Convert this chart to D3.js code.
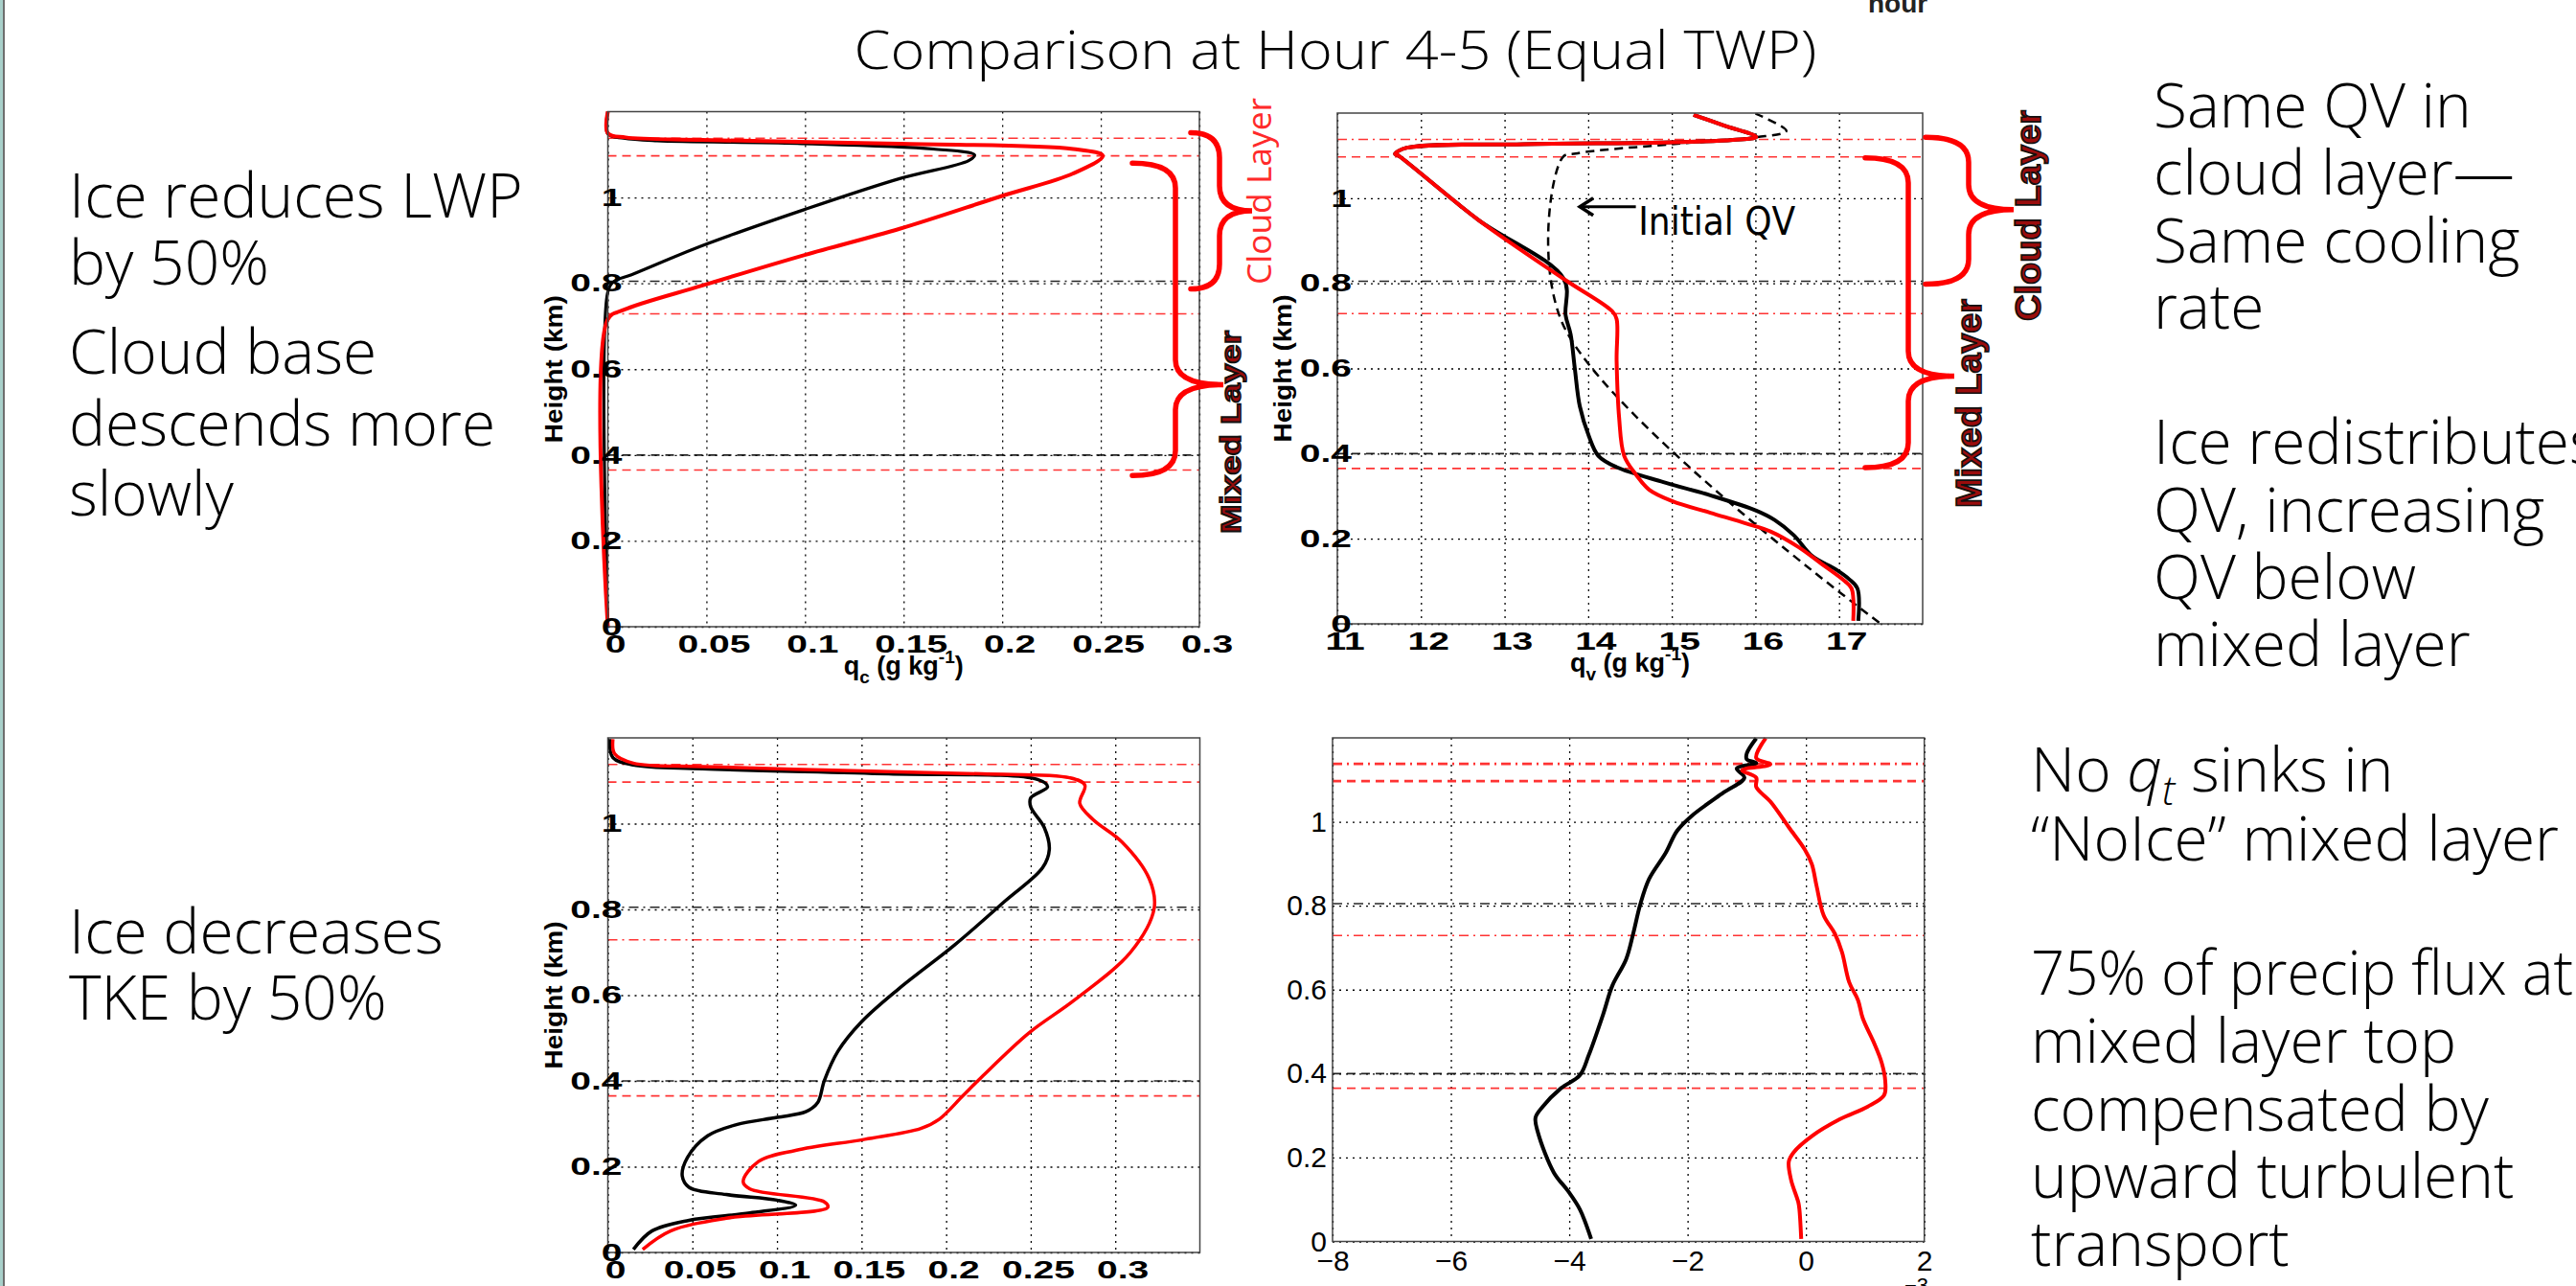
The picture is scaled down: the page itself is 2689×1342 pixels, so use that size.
<!DOCTYPE html>
<html>
<head>
<meta charset="utf-8">
<script src="https://cdn.jsdelivr.net/npm/d3@7"></script>
<style>
  body { margin: 0; background: #fff; }
  svg { display: block; }
  .note { font-family: "Open Sans", "Noto Sans", sans-serif; font-weight: 300; font-size: 64px; fill: #000; }
</style>
</head>
<body>
<script>
var W = 2689, H = 1342;

// tick values
var heightTicks = [0, 0.2, 0.4, 0.6, 0.8, 1];
var qcTicks = [0, 0.05, 0.1, 0.15, 0.2, 0.25, 0.3];
var qvTicks = [11, 12, 13, 14, 15, 16, 17];
var tkeTicks = [0, 0.05, 0.1, 0.15, 0.2, 0.25, 0.3];
var fluxTicks = [-8, -6, -4, -2, 0, 2];

// layer heights (km): Ice run and NoIce run (cloud top / ML top / cloud base / ML base)
var iceLayerZ = [1.138, 1.097, 0.729, 0.365];
var noIceLayerZ = [0.805, 0.400];

// profiles as [value, height km]
var qcNoIce = [[0, 0], [0, 0.78], [0.003, 0.804], [0.012, 0.82], [0.048, 0.888], [0.0998, 0.972],
  [0.148, 1.044], [0.183, 1.086], [0.186, 1.099], [0.165, 1.113], [0.096, 1.126], [0.025, 1.132],
  [0.008, 1.138], [0, 1.148], [0, 1.2]];
var qcIce = [[0, 0], [0, 0.716], [0.008, 0.738], [0.048, 0.795], [0.0998, 0.866], [0.148, 0.927],
  [0.1995, 1.003], [0.236, 1.056], [0.251, 1.097], [0.236, 1.113], [0.148, 1.125], [0.048, 1.134],
  [0.009, 1.14], [0, 1.15], [0, 1.2]];

var qvNoIce = [[17.23, 0.007], [17.22, 0.083], [17.12, 0.105], [16.96, 0.128], [16.68, 0.159],
  [16.46, 0.208], [16.23, 0.244], [16.01, 0.266], [15.46, 0.302], [14.9, 0.333], [14.34, 0.368],
  [14.12, 0.395], [14.01, 0.44], [13.9, 0.511], [13.84, 0.6], [13.79, 0.68], [13.73, 0.725],
  [13.71, 0.81], [12.68, 0.95], [11.73, 1.1], [11.69, 1.104], [11.82, 1.118], [13.23, 1.127],
  [14.9, 1.131], [15.73, 1.137], [16.01, 1.144], [15.62, 1.171], [15.26, 1.196]];
var qvIce = [[17.17, 0.007], [17.15, 0.083], [17.07, 0.1], [16.79, 0.141], [16.51, 0.181],
  [16.18, 0.217], [15.9, 0.235], [15.46, 0.261], [15.01, 0.288], [14.73, 0.315], [14.57, 0.351],
  [14.43, 0.395], [14.37, 0.484], [14.34, 0.618], [14.34, 0.716], [14.29, 0.734], [13.71, 0.81],
  [12.68, 0.95], [11.73, 1.1], [11.69, 1.104], [11.82, 1.118], [13.23, 1.127], [14.9, 1.131],
  [15.73, 1.137], [16.01, 1.144], [15.62, 1.171], [15.26, 1.196]];
var qvInitial = [[17.48, 0.003], [13.69, 0.707], [13.69, 1.095], [13.85, 1.105], [15.0, 1.127],
  [16.0, 1.143], [16.37, 1.158], [16.01, 1.198]];

var tkeNoIce = [[0.0151, 0.007], [0.026, 0.05], [0.048, 0.075], [0.084, 0.092], [0.111, 0.11],
  [0.1, 0.122], [0.07, 0.135], [0.048, 0.152], [0.044, 0.178], [0.047, 0.221], [0.059, 0.272],
  [0.076, 0.298], [0.1, 0.315], [0.117, 0.328], [0.124, 0.349], [0.128, 0.401], [0.136, 0.469],
  [0.15, 0.538], [0.172, 0.615], [0.205, 0.717], [0.235, 0.82], [0.257, 0.897], [0.261, 0.94],
  [0.258, 0.991], [0.25, 1.039], [0.25, 1.06], [0.26, 1.086], [0.254, 1.103], [0.166, 1.116],
  [0.056, 1.128], [0.015, 1.137], [0.003, 1.154], [0.001, 1.197]];
var tkeIce = [[0.0206, 0.007], [0.037, 0.05], [0.07, 0.08], [0.13, 0.105], [0.128, 0.118],
  [0.084, 0.148], [0.08, 0.165], [0.089, 0.212], [0.111, 0.238], [0.152, 0.264], [0.185, 0.289],
  [0.196, 0.311], [0.21, 0.366], [0.221, 0.409], [0.249, 0.512], [0.276, 0.589], [0.309, 0.7],
  [0.323, 0.803], [0.32, 0.872], [0.304, 0.957], [0.287, 1.009], [0.279, 1.047], [0.282, 1.09],
  [0.273, 1.107], [0.221, 1.116], [0.139, 1.124], [0.056, 1.133], [0.015, 1.141], [0.004, 1.163],
  [0.003, 1.197]];

var fluxNoIce = [[-3.63, 0.006], [-3.82, 0.076], [-4.02, 0.12], [-4.26, 0.164], [-4.53, 0.26],
  [-4.57, 0.295], [-4.45, 0.321], [-4.14, 0.365], [-3.82, 0.396], [-3.67, 0.444], [-3.43, 0.54],
  [-3.27, 0.61], [-3.04, 0.672], [-2.92, 0.733], [-2.8, 0.803], [-2.65, 0.864], [-2.37, 0.926],
  [-2.18, 0.978], [-1.94, 1.013], [-1.39, 1.07], [-1.04, 1.105], [-1.17, 1.127], [-0.84, 1.14],
  [-1.0, 1.149], [-1.0, 1.163], [-0.84, 1.199]];
var fluxIce = [[-0.08, 0.006], [-0.11, 0.076], [-0.13, 0.094], [-0.25, 0.146], [-0.29, 0.19],
  [-0.21, 0.212], [0.1, 0.251], [0.57, 0.291], [1.04, 0.321], [1.32, 0.348], [1.34, 0.383],
  [1.28, 0.426], [1.16, 0.47], [0.96, 0.532], [0.88, 0.575], [0.73, 0.618], [0.61, 0.689],
  [0.49, 0.733], [0.3, 0.777], [0.18, 0.847], [0.1, 0.899], [-0.02, 0.934], [-0.29, 0.987],
  [-0.6, 1.048], [-0.84, 1.083], [-0.84, 1.105], [-1.08, 1.123], [-0.6, 1.137], [-0.84, 1.152],
  [-0.68, 1.199]];

// brace extents [top, tip, bottom] in km
var qcBraces = [[1.151, 0.969, 0.787], [1.08, 0.564, 0.352]];
var qvBraces = [[1.143, 0.973, 0.798], [1.095, 0.582, 0.367]];

var svg = d3.select("body").append("svg")
    .attr("width", W)
    .attr("height", H);

svg.append("rect").attr("width", W).attr("height", H).attr("fill", "#fff");

// slide edge
svg.append("rect").attr("x", 0).attr("y", 0).attr("width", 3).attr("height", H).attr("fill", "#a8d0ca");
svg.append("rect").attr("x", 3).attr("y", 0).attr("width", 2).attr("height", H).attr("fill", "#6e6e6e");

// title
svg.append("text")
    .attr("x", 1394).attr("y", 72)
    .attr("text-anchor", "middle")
    .attr("textLength", 1005)
    .attr("lengthAdjust", "spacingAndGlyphs")
    .style("font-family", "'Open Sans', sans-serif")
    .style("font-weight", 300)
    .style("font-size", "56px")
    .text("Comparison at Hour 4-5 (Equal TWP)");

svg.append("text")
    .attr("x", 1950).attr("y", 13)
    .style("font-family", "'Liberation Sans', Arial, sans-serif")
    .style("font-weight", "bold")
    .style("font-size", "28px")
    .attr("fill", "#222")
    .text("hour");

var fmtGarbled = d3.format("~g");

function drawPanel(p) {
    var iw = p.right - p.left, ih = p.bottom - p.top;
    var g = svg.append("g").attr("transform", "translate(" + p.left + "," + p.top + ")");
    var x = d3.scaleLinear().domain(p.xDomain).range([0, iw]);
    var y = d3.scaleLinear().domain([0, 1.2]).range([ih, 0]);

    // dotted grid
    g.append("g").attr("class", "grid")
        .call(d3.axisBottom(x).tickValues(p.xTicks).tickSize(ih).tickFormat(""));
    g.append("g").attr("class", "grid")
        .call(d3.axisLeft(y).tickValues(heightTicks).tickSize(-iw).tickFormat(""));
    g.selectAll(".grid .domain").remove();
    g.selectAll(".grid line")
        .attr("stroke", "#000")
        .attr("stroke-width", 1.3)
        .attr("stroke-dasharray", "2,5");

    // layer markers
    var markers = iceLayerZ.map(function (z, i) { return {z: z, c: "#ff0000", dd: i % 2 == 0, top: i < 2}; })
        .concat(noIceLayerZ.map(function (z, i) { return {z: z, c: "#000", dd: i % 2 == 0, top: false}; }));
    g.selectAll("line.marker")
        .data(markers)
        .enter()
        .append("line")
        .attr("class", "marker")
        .attr("x1", 0).attr("x2", iw)
        .attr("y1", function (d) { return y(d.z); })
        .attr("y2", function (d) { return y(d.z); })
        .attr("stroke", function (d) { return d.c; })
        .attr("stroke-opacity", function (d) { return d.c == "#000" ? 0.85 : 0.8; })
        .attr("stroke-width", function (d) { return (p.boldTop && d.top) ? 2.6 : 1.6; })
        .attr("stroke-dasharray", function (d) { return d.dd ? "10,5,2,5" : "9,6"; });

    // profiles
    var line = d3.line()
        .x(function (d) { return x(d[0]); })
        .y(function (d) { return y(d[1]); })
        .curve(d3.curveCatmullRom.alpha(0.5));
    p.series.forEach(function (s) {
        g.append("path")
            .datum(s.data)
            .attr("d", line)
            .attr("fill", "none")
            .attr("stroke", s.color)
            .attr("stroke-width", s.width)
            .attr("stroke-dasharray", s.dash || null)
            .attr("stroke-linejoin", "round");
    });

    // box
    g.append("rect")
        .attr("width", iw).attr("height", ih)
        .attr("fill", "none")
        .attr("stroke", "#444")
        .attr("stroke-width", 1.5);

    // tick labels
    var ax = g.append("g").attr("transform", "translate(0," + ih + ")")
        .call(d3.axisBottom(x).tickValues(p.xLabels).tickSize(0).tickFormat(p.fmt));
    var ay = g.append("g")
        .call(d3.axisLeft(y).tickValues(heightTicks).tickSize(0).tickFormat(p.fmt));
    ax.select(".domain").remove();
    ay.select(".domain").remove();
    [ax, ay].forEach(function (a) {
        a.selectAll("text")
            .attr("fill", "#000")
            .style("font-family", "'Liberation Sans', Arial, sans-serif");
    });
    if (p.garbled) {
        ax.selectAll("text").attr("x", 5).attr("y", 9)
            .attr("transform", "scale(1.5,1)")
            .style("font-size", "26px").style("font-weight", "bold");
        ay.selectAll("text").attr("x", 10)
            .attr("transform", "scale(1.5,1)")
            .style("font-size", "26px").style("font-weight", "bold");
    } else {
        ax.selectAll("text").attr("y", 9).style("font-size", "30px");
        ay.selectAll("text").attr("x", -6).style("font-size", "30px");
    }

    if (p.ylabel) {
        g.append("text")
            .attr("transform", "translate(-48," + y(0.6) + ") rotate(-90)")
            .attr("text-anchor", "middle")
            .attr("textLength", 154)
            .attr("lengthAdjust", "spacingAndGlyphs")
            .style("font-family", "'Liberation Sans', Arial, sans-serif")
            .style("font-weight", "bold")
            .style("font-size", "25px")
            .text("Height (km)");
    }
    if (p.xlabel) {
        var t = g.append("text")
            .attr("x", iw / 2).attr("y", ih + 50)
            .attr("text-anchor", "middle")
            .style("font-family", "'Liberation Sans', Arial, sans-serif")
            .style("font-weight", "bold")
            .style("font-size", "27px");
        t.append("tspan").text("q");
        t.append("tspan").attr("dy", 9).style("font-size", "19px").text(p.xlabel);
        t.append("tspan").attr("dy", -9).text(" (g kg");
        t.append("tspan").attr("dy", -12).style("font-size", "19px").text("-1");
        t.append("tspan").attr("dy", 12).text(")");
    }
    return {g: g, x: x, y: y, iw: iw, ih: ih};
}

function bracePath(x0, xm, xt, yTop, yTip, yBot) {
    var r = 26;
    return "M" + x0 + "," + yTop +
        " Q" + xm + "," + yTop + " " + xm + "," + (yTop + r) +
        " L" + xm + "," + (yTip - r) +
        " Q" + xm + "," + yTip + " " + xt + "," + yTip +
        " Q" + xm + "," + yTip + " " + xm + "," + (yTip + r) +
        " L" + xm + "," + (yBot - r) +
        " Q" + xm + "," + yBot + " " + x0 + "," + yBot;
}

function drawBraces(panel, braces, offs) {
    braces.forEach(function (b, i) {
        var o = offs[i];
        panel.g.append("path")
            .attr("d", bracePath(panel.iw + o[0], panel.iw + o[1], panel.iw + o[2],
                panel.y(b[0]), panel.y(b[1]), panel.y(b[2])))
            .attr("fill", "none")
            .attr("stroke", "#ff0000")
            .attr("stroke-width", 5.5)
            .attr("stroke-linecap", "round");
    });
}

function layerLabel(x, y, len, size, txt, plain) {
    var t = svg.append("text")
        .attr("transform", "translate(" + x + "," + y + ") rotate(-90)")
        .attr("textLength", len)
        .attr("lengthAdjust", "spacingAndGlyphs")
        .style("font-size", size + "px")
        .text(txt);
    if (plain) {
        t.attr("fill", "#ff2a2a")
            .style("font-family", "'Open Sans', sans-serif");
    } else {
        t.attr("fill", "#9a0c0c")
            .attr("stroke", "#111")
            .attr("stroke-width", 1.6)
            .style("font-family", "'Liberation Sans', Arial, sans-serif")
            .style("font-weight", "bold");
    }
}

// panel 1: cloud water
var p1 = drawPanel({
    left: 634.5, right: 1252, top: 116.5, bottom: 654,
    xDomain: [0, 0.3], xTicks: qcTicks, xLabels: qcTicks, fmt: fmtGarbled, garbled: true,
    ylabel: true, xlabel: "c",
    series: [
        {data: qcNoIce, color: "#000", width: 3.2},
        {data: qcIce, color: "#ff0000", width: 4}
    ]
});
drawBraces(p1, qcBraces, [[-9, 21, 55], [-70, -25, 25]]);

// panel 2: water vapour
var p2 = drawPanel({
    left: 1396, right: 2007, top: 118, bottom: 651,
    xDomain: [11, 18], xTicks: qvTicks, xLabels: qvTicks, fmt: fmtGarbled, garbled: true,
    ylabel: true, xlabel: "v",
    series: [
        {data: qvInitial, color: "#000", width: 2.5, dash: "9,6"},
        {data: qvNoIce, color: "#000", width: 4},
        {data: qvIce, color: "#ff0000", width: 4}
    ]
});
drawBraces(p2, qvBraces, [[3, 48, 95], [-60, -15, 33]]);

// Initial QV annotation
var arrowY = p2.y(0.98);
p2.g.append("line")
    .attr("x1", p2.x(14.57)).attr("x2", p2.x(13.9))
    .attr("y1", arrowY).attr("y2", arrowY)
    .attr("stroke", "#000").attr("stroke-width", 3);
p2.g.append("path")
    .attr("d", "M" + (p2.x(13.9) + 14) + "," + (arrowY - 9) + " L" + p2.x(13.9) + "," + arrowY +
        " L" + (p2.x(13.9) + 14) + "," + (arrowY + 9))
    .attr("fill", "none").attr("stroke", "#000").attr("stroke-width", 3.5);
p2.g.append("text")
    .attr("x", p2.x(14.6)).attr("y", p2.y(0.915))
    .attr("textLength", 164)
    .attr("lengthAdjust", "spacingAndGlyphs")
    .style("font-family", "'Liberation Sans Narrow', 'DejaVu Sans Condensed', sans-serif")
    .style("font-size", "40px")
    .text("Initial QV");

// panel 3: TKE
drawPanel({
    left: 634.5, right: 1252.5, top: 770, bottom: 1307,
    xDomain: [0, 0.35], xTicks: tkeTicks, xLabels: tkeTicks, fmt: fmtGarbled, garbled: true,
    ylabel: true,
    series: [
        {data: tkeNoIce, color: "#000", width: 3.5},
        {data: tkeIce, color: "#ff0000", width: 3.5}
    ]
});

// panel 4: total water flux
drawPanel({
    left: 1391, right: 2008.7, top: 770, bottom: 1295.5,
    xDomain: [-8, 2], xTicks: fluxTicks, xLabels: fluxTicks, fmt: d3.format("~g"), garbled: false,
    boldTop: true,
    series: [
        {data: fluxNoIce, color: "#000", width: 4},
        {data: fluxIce, color: "#ff0000", width: 4}
    ]
});
svg.append("text")
    .attr("x", 1988).attr("y", 1349)
    .style("font-family", "'Liberation Sans', Arial, sans-serif")
    .style("font-size", "22px")
    .text("\u22123");

// layer labels
layerLabel(1327, 297, 195, 35, "Cloud Layer", true);
layerLabel(1295, 557, 212, 30, "Mixed Layer", false);
layerLabel(2130, 335, 220, 36, "Cloud Layer", false);
layerLabel(2068, 530, 218, 36, "Mixed Layer", false);

// slide notes
function notes(x, lines) {
    lines.forEach(function (l) {
        var t = svg.append("text").attr("class", "note").attr("x", x).attr("y", l[1]).text(l[0]);
        if (l[2]) t.attr("textLength", l[2]).attr("lengthAdjust", "spacingAndGlyphs");
    });
}
notes(72, [["Ice reduces LWP", 227], ["by 50%", 297], ["Cloud base", 390], ["descends more", 465],
    ["slowly", 538], ["Ice decreases", 995], ["TKE by 50%", 1064]]);
notes(2248, [["Same QV in", 133], ["cloud layer\u2014", 203], ["Same cooling", 274], ["rate", 343],
    ["Ice redistributes", 484], ["QV, increasing", 555], ["QV below", 625], ["mixed layer", 695]]);
notes(2120, [["\u201CNoIce\u201D  mixed layer", 898], ["75% of precip flux at", 1038, 566],
    ["mixed layer top", 1109], ["compensated by", 1180], ["upward turbulent", 1250], ["transport", 1321]]);

var qt = svg.append("text").attr("class", "note").attr("x", 2120).attr("y", 826);
qt.append("tspan").text("No ");
qt.append("tspan").style("font-style", "italic").text("q");
qt.append("tspan").attr("dy", 14).style("font-style", "italic").style("font-size", "42px").text("t");
qt.append("tspan").attr("dy", -14).text(" sinks in");
</script>
</body>
</html>
